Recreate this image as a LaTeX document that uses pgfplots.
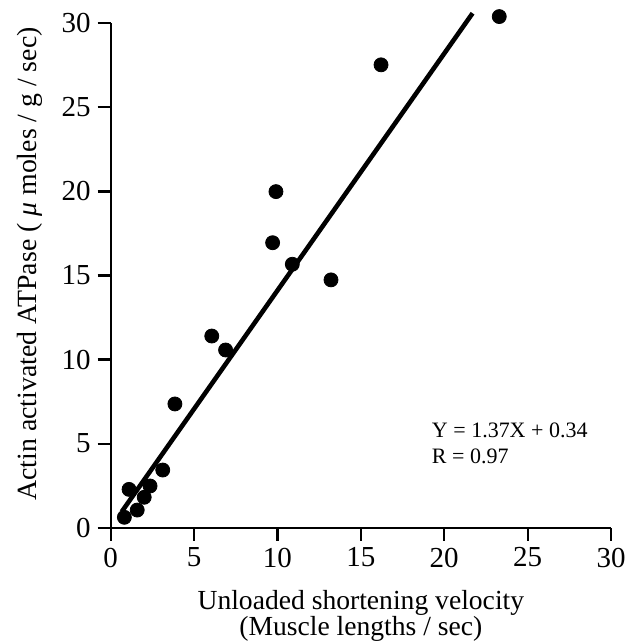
\documentclass[border=0pt]{standalone}
\usepackage{fontspec}
\setmainfont{Liberation Serif}
\usepackage{pgfplots}
\pgfplotsset{compat=1.18}
\begin{document}
\begin{tikzpicture}
\path (-55.35pt,-55.65pt) rectangle (266.15pt,263.85pt);
\begin{axis}[
 at={(0,0)}, anchor=south west,
 scale only axis, width=250.15pt, height=252.2pt,
 xmin=0, xmax=30, ymin=0, ymax=30,
 axis x line*=bottom, axis y line*=left,
 axis line style={line width=1.1pt},
 xtick={0,5,...,30}, ytick={0,5,...,30},
 tick align=outside, major tick length=6.5pt,
 tick style={line width=1.1pt, black},
 /pgf/number format/assume math mode=true,
 ticklabel style={font=\fontsize{14.5}{15}\selectfont},
 xlabel={Unloaded shortening velocity\\(Muscle lengths / sec)},
 xlabel style={font=\fontsize{13.8}{12.9}\selectfont, align=center, at={(axis description cs:0.5,-0.124)}, anchor=north, inner sep=0pt},
 ylabel={Actin activated ATPase ( \textit{μ} moles / g / sec)},
 ylabel style={font=\fontsize{13.9}{14}\selectfont, at={(axis description cs:-0.1613,0.523)}, anchor=center, inner sep=0pt},
 clip=false,
]
\addplot[only marks, mark=*, mark size=3.5pt, black] coordinates {
 (23.30,30.40) (16.21,27.53) (9.91,19.99) (9.71,16.95) (10.89,15.67)
 (13.21,14.74) (6.06,11.40) (6.89,10.57) (3.85,7.36) (3.12,3.43)
 (1.10,2.28) (2.36,2.48) (2.01,1.81) (1.59,1.05) (0.82,0.62)
};
\addplot[black, line width=2.3pt] coordinates {(0.66,0.95) (21.7,30.6)};
\node[anchor=north west, align=left, inner sep=0pt, font=\fontsize{11}{12.8}\selectfont] at (axis cs:19.24,6.25) {Y = 1.37X + 0.34\\R = 0.97};
\end{axis}
\end{tikzpicture}
\end{document}
